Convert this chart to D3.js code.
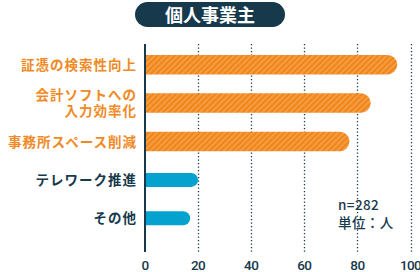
<!DOCTYPE html>
<html><head><meta charset="utf-8">
<script src="https://cdn.jsdelivr.net/npm/d3@7"></script>
<style>
html,body{margin:0;padding:0;background:#fff;}
svg{display:block;font-family:"Noto Sans CJK JP","Noto Sans",sans-serif;}
</style></head>
<body><svg id="c" width="420" height="272"></svg>
<script>
const title = "個人事業主";
const categories = [["証憑の検索性向上"], ["会計ソフトへの","入力効率化"], ["事務所スペース削減"], ["テレワーク推進"], ["その他"]];
const values = [95, 85, 77, 20, 17];
const highlight = [true, true, true, false, false];
const ticks = [0, 20, 40, 60, 80, 100];
const note = ["n=282", "単位：人"];

const svg = d3.select("#c");
const navy = "#17394c", orange = "#f08519", teal = "#05a1cf";

const defs = svg.append("defs");
const pat = defs.append("pattern").attr("id","hatch").attr("patternUnits","userSpaceOnUse")
  .attr("width",4).attr("height",4).attr("patternTransform","rotate(45)");
pat.append("rect").attr("width",4).attr("height",4).attr("fill",orange);
pat.append("rect").attr("width",1.6).attr("height",4).attr("fill","#f6a24c");

const x = d3.scaleLinear().domain([0,100]).range([145,410.5]);
const y = d3.scaleBand().domain(d3.range(categories.length)).range([45.5,237.5]).paddingInner(0).paddingOuter(0);

// title pill
svg.append("rect").attr("x",135).attr("y",2).attr("width",150).attr("height",25).attr("rx",12.5).attr("fill",navy);
svg.append("text").attr("x",210).attr("y",21.5).attr("text-anchor","middle").attr("fill","#fff")
  .attr("font-size",18).attr("font-weight",700).text(title);

// gridlines
const g = svg.append("g");
g.selectAll("line.grid").data(ticks.slice(1)).join("line")
  .attr("x1",d=>Math.round(x(d))+0.5).attr("x2",d=>Math.round(x(d))+0.5)
  .attr("y1",44).attr("y2",252).attr("stroke",navy).attr("stroke-width",1.3).attr("stroke-dasharray","1.3,2.2");

// bars
function barPath(x0,x1,yc,h){
  const r=h/2;
  return `M${x0},${yc-r}H${x1-r}A${r},${r} 0 0 1 ${x1-r},${yc+r}H${x0}Z`;
}
svg.selectAll("path.bar").data(values).join("path")
  .attr("d",(d,i)=>{const h=highlight[i]?19.5:14; const yc=y(i)+y.bandwidth()/2; return barPath(x(0),x(d),yc,h);})
  .attr("fill",(d,i)=>highlight[i]?"url(#hatch)":teal);

// axis line
svg.append("line").attr("x1",145).attr("x2",145).attr("y1",44).attr("y2",252).attr("stroke",navy).attr("stroke-width",2);

// category labels
categories.forEach((lines,i)=>{
  const yc=y(i)+y.bandwidth()/2;
  const t=svg.append("text").attr("text-anchor","end").attr("font-size",13.5).attr("font-weight",700)
    .attr("letter-spacing",1)
    .attr("fill",highlight[i]?"#ef8a25":navy);
  lines.forEach((l,j)=>{
    t.append("tspan").attr("x",137).attr("y",yc+5+(j-(lines.length-1)/2)*16).text(l);
  });
});

// tick labels
svg.selectAll("text.tick").data(ticks).join("text")
  .attr("x",d=>x(d)).attr("y",270).attr("text-anchor","middle")
  .attr("font-family","Roboto, sans-serif").attr("font-size",13.5).attr("font-weight",500)
  .attr("letter-spacing",-0.6)
  .attr("fill",navy).text(d=>d);

// note
note.forEach((s,i)=>{
  svg.append("text").attr("x",338).attr("y",210+i*18).attr("font-size",13.5).attr("font-weight",500)
    .attr("letter-spacing",0.4)
    .attr("fill",navy).text(s);
});
</script></body></html>
